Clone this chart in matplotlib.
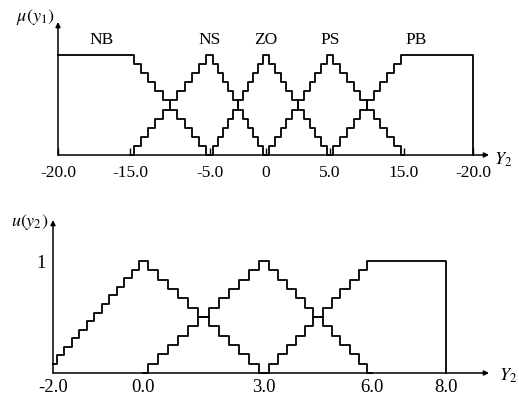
#!/usr/bin/env python3
"""Staircase membership functions for the two fuzzy variables (upper: y1 sets, lower: y2 sets)."""

import matplotlib

matplotlib.use("Agg")
import matplotlib.pyplot as plt
import numpy as np

# ---- data -------------------------------------------------------------
TOP_TICK_VALUES = [-20.0, -15.0, -5.0, 0.0, 5.0, 15.0, 20.0]
TOP_TICK_LABELS = ["-20.0", "-15.0", "-5.0", "0", "5.0", "15.0", "-20.0"]
TOP_SET_NAMES = ["NB", "NS", "ZO", "PS", "PB"]
TOP_SET_X = [
    [-20.0, -15.0, -5.0],
    [-15.0, -5.0, 0.0],
    [-5.0, 0.0, 5.0],
    [0.0, 5.0, 15.0],
    [5.0, 15.0, 20.0, 20.0],
]
TOP_SET_MU = [
    [1.0, 1.0, 0.0],
    [0.0, 1.0, 0.0],
    [0.0, 1.0, 0.0],
    [0.0, 1.0, 0.0],
    [0.0, 1.0, 1.0, 0.0],
]

BOT_TICK_VALUES = [-2.0, 0.0, 3.0, 6.0, 8.0]
BOT_TICK_LABELS = ["-2.0", "0.0", "3.0", "6.0", "8.0"]
BOT_SET_X = [
    [-2.0, 0.0, 3.0],
    [0.0, 3.0, 6.0],
    [3.0, 6.0, 8.0, 8.0],
]
BOT_SET_MU = [
    [0.08, 1.0, 0.0],
    [0.0, 1.0, 0.0],
    [0.0, 1.0, 1.0, 0.0],
]

# ---- layout (pixels of the 519x398 picture) ----------------------------
W, H = 519, 398
TOP_TICK_PX = [58, 130, 210, 266, 330, 404, 473]
TOP_BASE_PX, TOP_ONE_PX = 155, 55
TOP_NAME_AT = [-17.0, -5.0, 0.0, 5.0, 15.9]
BOT_TICK_PX = [53, 143, 264, 372, 446]
BOT_BASE_PX, BOT_ONE_PX = 373, 261

SERIF = ["Liberation Serif", "DejaVu Serif"]
plt.rcParams["mathtext.fontset"] = "stix"
LW = 1.3


def staircase(xs, ys, n):
    """Sample each sloped piece at n steps; flat/vertical pieces keep their ends."""
    px, py = [xs[0]], [ys[0]]
    for x0, x1, y0, y1 in zip(xs[:-1], xs[1:], ys[:-1], ys[1:]):
        k = n if (y0 != y1 and x0 != x1) else 1
        t = np.linspace(0, 1, k + 1)[1:]
        px.extend(x0 + (x1 - x0) * t)
        py.extend(y0 + (y1 - y0) * t)
    return np.array(px), np.array(py)


def piecewise_scale(values, px):
    values = np.asarray(values, float)
    frac = (np.asarray(px, float) - px[0]) / (px[-1] - px[0])

    def fwd(v):
        return np.interp(v, values, frac)

    def inv(f):
        return np.interp(f, frac, values)

    return fwd, inv


def make_axes(fig, tick_px, base_px, one_px):
    left = tick_px[0] / W
    width = (tick_px[-1] - tick_px[0]) / W
    bottom = (H - base_px) / H
    height = (base_px - one_px) / H
    ax = fig.add_axes([left, bottom, width, height])
    for side in ("top", "right", "left", "bottom"):
        ax.spines[side].set_visible(False)
    ax.set_ylim(0, 1)
    return ax


def axis_arrows(ax, x_end, y_end):
    props = dict(arrowstyle="-|>", lw=1.1, color="black", mutation_scale=7, shrinkA=0, shrinkB=0)
    ax.annotate("", xy=(x_end, 0), xytext=(0, 0), xycoords="axes fraction", arrowprops=props, annotation_clip=False)
    ax.annotate("", xy=(0, y_end), xytext=(0, 0), xycoords="axes fraction", arrowprops=props, annotation_clip=False)


fig = plt.figure(figsize=(W / 100, H / 100), dpi=100)

# ---- upper panel --------------------------------------------------------
ax1 = make_axes(fig, TOP_TICK_PX, TOP_BASE_PX, TOP_ONE_PX)
fwd, inv = piecewise_scale(TOP_TICK_VALUES, TOP_TICK_PX)
ax1.set_xscale("function", functions=(fwd, inv))
ax1.set_xlim(TOP_TICK_VALUES[0], TOP_TICK_VALUES[-1])
for xs, mus in zip(TOP_SET_X, TOP_SET_MU):
    sx, sy = staircase(xs, mus, 11)
    ax1.plot(sx, sy, drawstyle="steps-mid", color="black", lw=LW, clip_on=False)
for name, xv in zip(TOP_SET_NAMES, TOP_NAME_AT):
    ax1.text(xv, 1.15, name, ha="center", va="center", fontsize=12.5, family=SERIF)
ax1.set_xticks(TOP_TICK_VALUES)
ax1.set_xticklabels(TOP_TICK_LABELS, family=SERIF, fontsize=12.5)
ax1.xaxis.set_minor_locator(matplotlib.ticker.NullLocator())
ax1.tick_params(axis="x", direction="in", length=5, width=1.0, pad=7)
ax1.set_yticks([])
axis_arrows(ax1, (489 - TOP_TICK_PX[0]) / (TOP_TICK_PX[-1] - TOP_TICK_PX[0]), (TOP_BASE_PX - 22) / (TOP_BASE_PX - TOP_ONE_PX))

# ---- lower panel --------------------------------------------------------
ax2 = make_axes(fig, BOT_TICK_PX, BOT_BASE_PX, BOT_ONE_PX)
fwd2, inv2 = piecewise_scale(BOT_TICK_VALUES, BOT_TICK_PX)
ax2.set_xscale("function", functions=(fwd2, inv2))
ax2.set_xlim(BOT_TICK_VALUES[0], BOT_TICK_VALUES[-1])
for xs, mus in zip(BOT_SET_X, BOT_SET_MU):
    sx, sy = staircase(xs, mus, 12)
    ax2.plot(sx, sy, drawstyle="steps-mid", color="black", lw=LW, clip_on=False)
ax2.set_xticks(BOT_TICK_VALUES)
ax2.set_xticklabels(BOT_TICK_LABELS, family=SERIF, fontsize=13.5)
ax2.xaxis.set_minor_locator(matplotlib.ticker.NullLocator())
ax2.tick_params(axis="x", length=0, pad=4)
ax2.set_yticks([1])
ax2.set_yticklabels(["1"], family=SERIF, fontsize=13.5)
ax2.tick_params(axis="y", length=0, pad=5)
axis_arrows(ax2, (489 - BOT_TICK_PX[0]) / (BOT_TICK_PX[-1] - BOT_TICK_PX[0]), (BOT_BASE_PX - 220) / (BOT_BASE_PX - BOT_ONE_PX))

# ---- axis names ---------------------------------------------------------
fig.text(35 / W, 1 - 17 / H, r"$\mu(y_1)$", ha="center", va="center", fontsize=13)
fig.text(503 / W, 1 - 160 / H, r"$Y_2$", ha="center", va="center", fontsize=13)
fig.text(30 / W, 1 - 222 / H, r"$u(y_2)$", ha="center", va="center", fontsize=13)
fig.text(508 / W, 1 - 376 / H, r"$Y_2$", ha="center", va="center", fontsize=13)

fig.savefig("out.png", dpi=100)
